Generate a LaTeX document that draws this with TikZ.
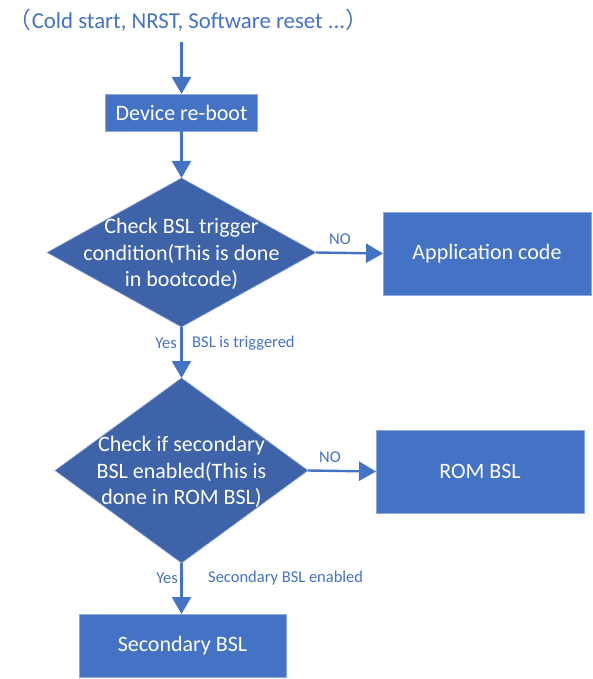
\documentclass[tikz,border=0pt]{standalone}
\usepackage{fontspec}
\setmainfont{Carlito}
\newfontfamily\cjk{Noto Sans CJK SC}
\usetikzlibrary{shapes.geometric,arrows.meta}
\definecolor{boxblue}{HTML}{4472C4}
\definecolor{diablue}{HTML}{3E63A8}
\definecolor{edgeblue}{HTML}{8EA9DB}
\definecolor{lblblue}{HTML}{4472C4}
\begin{document}
\begin{tikzpicture}[x=1pt,y=-1pt,
  boxnode/.style={draw=edgeblue,line width=0.8pt,fill=boxblue,text=white,inner sep=0pt,outer sep=0pt,font=\fontsize{22}{26}\selectfont},
  dianode/.style={diamond,draw=edgeblue,line width=0.6pt,fill=diablue,inner sep=0pt,outer sep=0pt},
  diatext/.style={text=white,align=center,font=\fontsize{22}{26.5}\selectfont,inner sep=0pt},
  lbl/.style={text=lblblue,inner sep=0pt,font=\fontsize{16.5}{19}\selectfont},
  flow/.style={draw=boxblue,line width=2.4pt,-{Triangle[width=19pt,length=17pt]}}]
\useasboundingbox (0,0) rectangle (592,679);
\node[text=lblblue,font=\fontsize{22.8}{26}\selectfont,inner sep=0pt] (src) at (188.5,20) {{\cjk （}Cold start, NRST, Software reset ...{\cjk ）}};
\coordinate (srcb) at (181.5,42);
\node[boxnode,minimum width=152pt,minimum height=37pt] (reboot) at (181.5,112.5) {Device re-boot};
\node[dianode,minimum width=269pt,minimum height=149pt] (d1) at (181.5,252.5) {};
\node[diatext] at (181.5,254) {Check BSL trigger\\condition(This is done\\in bootcode)};
\node[boxnode,minimum width=208pt,minimum height=83pt] (app) at (487,253.5) {Application code};
\node[dianode,minimum width=253pt,minimum height=185pt] (d2) at (181.5,470.5) {};
\node[diatext] at (181.5,472) {Check if secondary\\BSL enabled(This is\\done in ROM BSL)};
\node[boxnode,minimum width=208pt,minimum height=83pt] (rom) at (480,471.5) {ROM BSL};
\node[boxnode,minimum width=207pt,minimum height=63pt] (sec) at (182.5,645.5) {Secondary BSL};
\draw[flow] (srcb) -- (reboot.north);
\draw[flow] (reboot.south) -- (d1.north);
\draw[flow] (d1.east) -- (app.west);
\draw[flow] (d1.south) -- (d2.north);
\draw[flow] (d2.east) -- (rom.west);
\draw[flow] (d2.south) -- (sec.north -| d2.south);
\node[lbl] (no1) at (340,239) {NO};
\node[lbl] (no2) at (330,457.5) {NO};
\node[lbl,anchor=east] (yes1) at (177,343) {Yes};
\node[lbl,anchor=west] (trig) at (192,343) {BSL is triggered};
\node[lbl,anchor=east] (yes2) at (178,578) {Yes};
\node[lbl,anchor=west] (sece) at (208,578) {Secondary BSL enabled};
\end{tikzpicture}
\end{document}
